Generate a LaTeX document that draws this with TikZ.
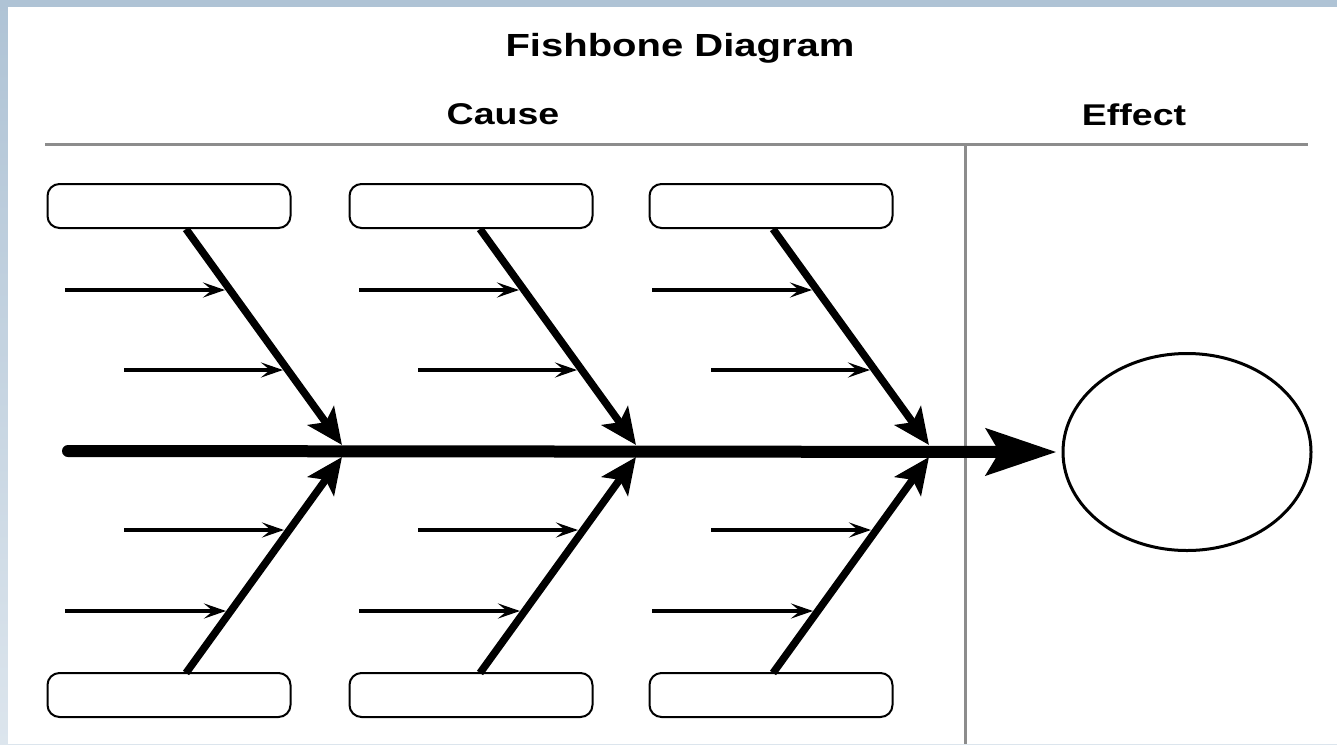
\documentclass[tikz,border=0pt]{standalone}
\usepackage{fontspec}
\setmainfont{Liberation Sans}
\usetikzlibrary{arrows.meta,shapes.geometric}
\definecolor{frametop}{HTML}{AFC3D5}
\definecolor{framebot}{HTML}{DCE5ED}
\definecolor{rulegray}{HTML}{8C8C8C}
\begin{document}
\begin{tikzpicture}[x=1pt,y=-1pt,
  catbox/.style={draw, line width=2pt, rounded corners=12pt, minimum width=243pt, minimum height=44pt, inner sep=0pt, fill=white},
  heading/.style={font=\bfseries\fontsize{29}{29}\selectfont, anchor=base, xscale=1.25},
  rulegrey/.style={draw=rulegray, line width=3pt},
  bone/.style={line width=7.5pt, -{Stealth[length=36pt,width=32pt,inset=8pt]}},
  twig/.style={line width=3.6pt, -{Stealth[length=22pt,width=15pt,inset=9pt]}},
  spine/.style={line width=12pt, line cap=round, -{Stealth[length=70pt,width=46pt,inset=13pt]}}
]
\useasboundingbox (0,0) rectangle (1337,744);
% frame
\shade[top color=frametop, bottom color=framebot] (0,0) rectangle (1337,744);
\fill[white] (8,7) rectangle (1337,744);

% headings
\node[heading, font=\bfseries\fontsize{32}{32}\selectfont] (title) at (680,56) {Fishbone Diagram};
\node[heading, font=\bfseries\fontsize{30}{30}\selectfont] (cause) at (503,124) {Cause};
\node[heading, font=\bfseries\fontsize{30}{30}\selectfont] (effect) at (1134,125) {Effect};

% rules
\coordinate (rl) at (45,144);
\coordinate (rr) at (1308,144);
\coordinate (vt) at (965,144);
\coordinate (vb) at (965,744);
\draw[rulegrey] (rl) -- (rr);
\draw[rulegrey] (vt) -- (vb);

% category boxes
\node[catbox] (t1) at (169,206) {};
\node[catbox] (t2) at (471,206) {};
\node[catbox] (t3) at (771,206) {};
\node[catbox] (b1) at (169,695) {};
\node[catbox] (b2) at (471,695) {};
\node[catbox] (b3) at (771,695) {};

% effect
\node[ellipse, draw, line width=3pt, minimum width=248pt, minimum height=197pt, inner sep=0pt] (eff) at (1187,452) {};

% spine
\coordinate (s0) at (68,451);
\draw[spine] (s0) -- ([xshift=-5pt]eff.west);

% bones
\foreach \i/\dx in {1/0,2/294,3/587}{
  \coordinate (jt\i) at (342+\dx,445);
  \coordinate (jb\i) at (342+\dx,457);
  \coordinate (st\i) at (186+\dx,229);
  \coordinate (sb\i) at (186+\dx,673);
  \draw[bone] (st\i) -- (jt\i);
  \draw[bone] (sb\i) -- (jb\i);
  % twigs
  \coordinate (a1\i) at (65+\dx,290);  \coordinate (e1\i) at (225+\dx,290);
  \coordinate (a2\i) at (124+\dx,370); \coordinate (e2\i) at (283+\dx,370);
  \coordinate (a3\i) at (124+\dx,530); \coordinate (e3\i) at (284+\dx,530);
  \coordinate (a4\i) at (65+\dx,611);  \coordinate (e4\i) at (226+\dx,611);
  \draw[twig] (a1\i) -- (e1\i);
  \draw[twig] (a2\i) -- (e2\i);
  \draw[twig] (a3\i) -- (e3\i);
  \draw[twig] (a4\i) -- (e4\i);
}
\end{tikzpicture}
\end{document}
